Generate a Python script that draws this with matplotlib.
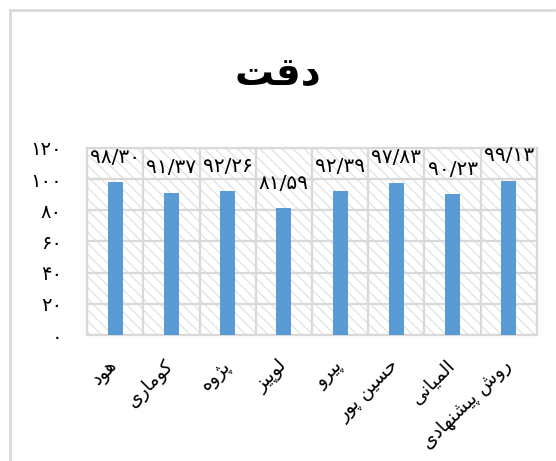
import matplotlib
matplotlib.use('Agg')
import matplotlib.pyplot as plt
from matplotlib.lines import Line2D
from matplotlib.transforms import ScaledTranslation

# ---- data ----
title = 'دقت'
methods = ['هود', 'کوماری', 'پژوه', 'لوپیز', 'پیرو', 'حسین پور', 'المیانی', 'روش پیشنهادی']
accuracy = [98.30, 91.37, 92.26, 81.59, 92.39, 97.83, 90.23, 99.13]
y_ticks = [0, 20, 40, 60, 80, 100, 120]

# ---- minimal Persian shaping (matplotlib has no Arabic shaping) ----
# letter: (isolated, final, initial, medial); right-joining letters have 2 forms
FORMS = {
    'ا': ('\uFE8D', '\uFE8E'),
    'د': ('\uFEA9', '\uFEAA'),
    'ر': ('\uFEAD', '\uFEAE'),
    'ز': ('\uFEAF', '\uFEB0'),
    'ژ': ('\uFB8A', '\uFB8B'),
    'و': ('\uFEED', '\uFEEE'),
    'ق': ('\uFED5', '\uFED6', '\uFED7', '\uFED8'),
    'ت': ('\uFE95', '\uFE96', '\uFE97', '\uFE98'),
    'ه': ('\uFEE9', '\uFEEA', '\uFEEB', '\uFEEC'),
    'ک': ('\uFB8E', '\uFB8F', '\uFB90', '\uFB91'),
    'م': ('\uFEE1', '\uFEE2', '\uFEE3', '\uFEE4'),
    'ی': ('\uFBFC', '\uFBFD', '\uFBFE', '\uFBFF'),
    'پ': ('\uFB56', '\uFB57', '\uFB58', '\uFB59'),
    'ل': ('\uFEDD', '\uFEDE', '\uFEDF', '\uFEE0'),
    'ح': ('\uFEA1', '\uFEA2', '\uFEA3', '\uFEA4'),
    'س': ('\uFEB1', '\uFEB2', '\uFEB3', '\uFEB4'),
    'ن': ('\uFEE5', '\uFEE6', '\uFEE7', '\uFEE8'),
    'ش': ('\uFEB5', '\uFEB6', '\uFEB7', '\uFEB8'),
}


def shape(word):
    out = []
    for i, ch in enumerate(word):
        f = FORMS.get(ch)
        if f is None:
            out.append(ch)
            continue
        prev = word[i - 1] if i > 0 else ''
        nxt = word[i + 1] if i + 1 < len(word) else ''
        join_prev = prev in FORMS and len(FORMS[prev]) == 4
        join_next = nxt in FORMS and len(f) == 4
        if join_prev and join_next:
            out.append(f[3])
        elif join_prev:
            out.append(f[1])
        elif join_next:
            out.append(f[2])
        else:
            out.append(f[0])
    return ''.join(out)[::-1]


FA_DIGITS = str.maketrans('0123456789.', '۰۱۲۳۴۵۶۷۸۹/')


def fa_num(s):
    return s.translate(FA_DIGITS)


plt.rcParams['font.family'] = ['DejaVu Sans']
plt.rcParams['hatch.linewidth'] = 0.8

fig = plt.figure(figsize=(5.56, 4.61), dpi=100)
ax = fig.add_axes([0.1565, 0.2733, 0.8093, 0.4057])

grid_c = '#d9d9d9'
ax.patch.set_facecolor('white')
ax.patch.set_hatch('\\\\\\')
ax.patch.set_edgecolor('#dedede')

x = list(range(len(methods)))
bars = ax.bar(x, accuracy, width=0.27, color='#5b9bd5', zorder=3)

ax.set_xlim(-0.5, len(methods) - 0.5)
ax.set_ylim(0, 120)
ax.set_yticks(y_ticks)
ax.set_yticklabels([fa_num(str(v)) for v in y_ticks], fontsize=14)
ax.yaxis.grid(True, color=grid_c, lw=1.6, zorder=1)
for b in range(len(methods) + 1):
    ax.axvline(b - 0.5, color=grid_c, lw=1.6, zorder=1)
for s in ax.spines.values():
    s.set_color(grid_c)
    s.set_linewidth(1.6)
ax.tick_params(length=0)
ax.tick_params(axis='y', pad=18)

ax.set_xticks(x)
ax.set_xticklabels([shape(m) for m in methods], rotation=45, ha='right',
                   va='top', rotation_mode='anchor', fontsize=13.5)
ax.tick_params(axis='x', pad=15)
for lab in ax.get_xticklabels():
    lab.set_transform(lab.get_transform() + ScaledTranslation(-5 / 72, 0, fig.dpi_scale_trans))

# value labels above bars
for xi, v in zip(x, accuracy):
    ax.annotate(fa_num(f'{v:.2f}'), (xi, v), xytext=(0, 11), textcoords='offset points',
                ha='center', va='bottom', fontsize=14.5, clip_on=False, zorder=4)

fig.text(0.5, 0.837, shape(title), ha='center', va='center', fontsize=28, fontweight='bold')

# outer chart frame (top and left edges)
fig.add_artist(Line2D([10 / 556, 554 / 556], [1 - 10 / 461, 1 - 10 / 461],
                      transform=fig.transFigure, color=grid_c, lw=2))
fig.add_artist(Line2D([10 / 556, 10 / 556], [1 - 10 / 461, 0],
                      transform=fig.transFigure, color=grid_c, lw=2))

fig.savefig('out.png', dpi=100)
